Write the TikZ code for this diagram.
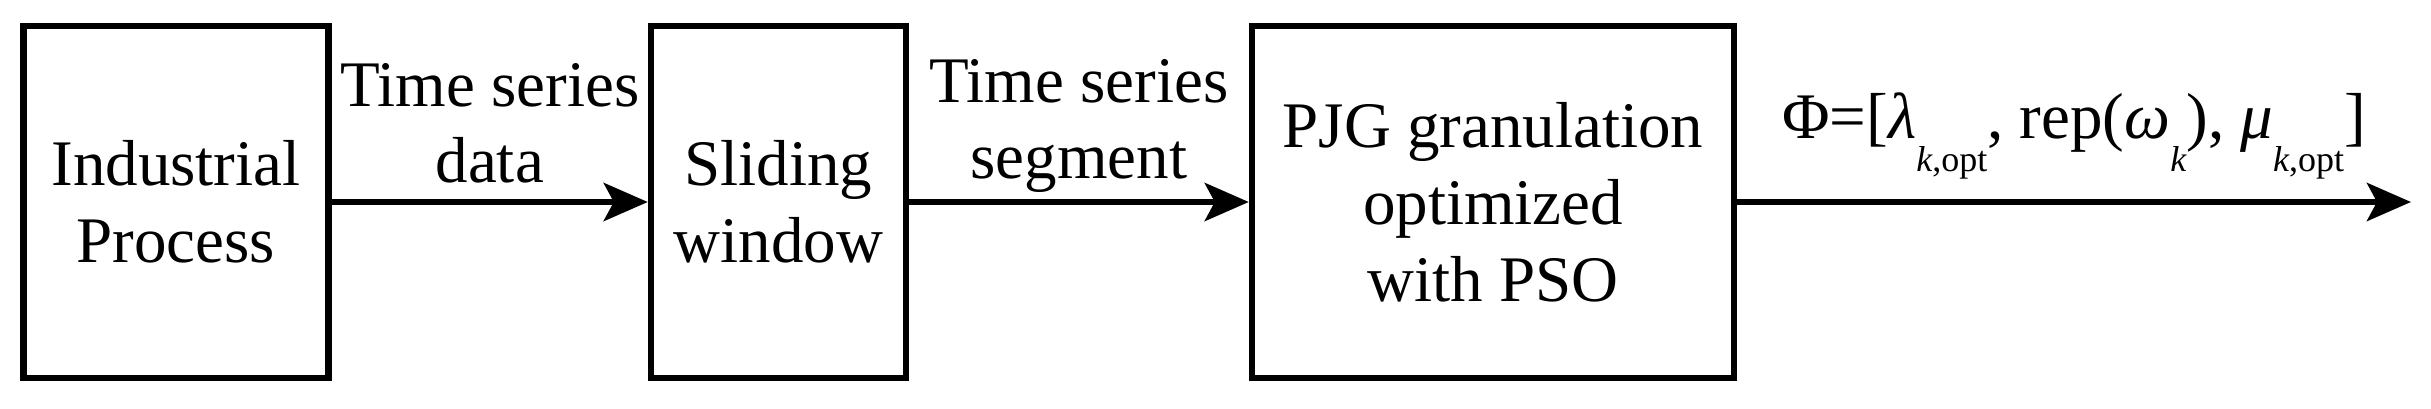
\documentclass[tikz,border=0pt]{standalone}
\usepackage{fontspec}
\setmainfont{Liberation Serif}
\usetikzlibrary{arrows.meta}

\newcommand{\lowidx}[1]{\raisebox{-0.5em}{\fontsize{9}{9}\selectfont #1}}

\tikzset{
	blk/.style={draw, line width=1.6pt, align=center, inner sep=0pt, minimum height=88pt, font=\fontsize{16.25}{19.25}\selectfont},
	flow/.style={line width=1.6pt, -{Stealth[length=11pt,width=9.5pt,inset=2.5pt]}},
	lbl/.style={align=center, inner sep=0pt, font=\fontsize{16.25}{19}\selectfont}
}

\begin{document}
\begin{tikzpicture}[x=0.25pt, y=-0.25pt]
			\useasboundingbox (0,0) rectangle (2431,408);
			\node[blk, minimum width=76.25pt] (ind) at (176,202) {Industrial\\Process};
			\node[blk, minimum width=63.75pt] (win) at (778.5,202) {Sliding\\window};
			\node[blk, minimum width=120.5pt] (pjg) at (1493,202) {PJG granulation\\optimized\\with PSO};
			\coordinate (out) at (2411,202);
			\draw[flow] (ind) -- (win) node[midway, above=4pt, lbl] (data) {Time series\\data};
			\draw[flow] (win) -- (pjg) node[midway, above=1.5pt, lbl] (seg) {Time series\\segment};
			\draw[flow] (pjg.east) -- (out) node[midway, above=5pt, lbl] (phi)
				{Φ=[{\itshape λ}\lowidx{\itshape k\upshape,opt}, rep({\itshape ω}\lowidx{\itshape k}), {\itshape μ}\lowidx{\itshape k\upshape,opt}]};
		\end{tikzpicture}
\end{document}
